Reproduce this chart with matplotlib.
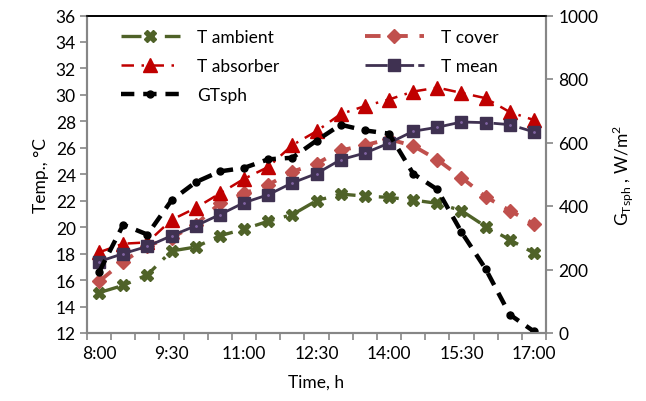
import matplotlib
matplotlib.use('Agg')
import matplotlib.pyplot as plt
import numpy as np

plt.rcParams['font.family'] = ['Lato', 'DejaVu Sans']
plt.rcParams['font.size'] = 12.5

# half-hour readings from 8:00 to 17:00
times = ['8:00', '8:30', '9:00', '9:30', '10:00', '10:30', '11:00', '11:30', '12:00', '12:30',
         '13:00', '13:30', '14:00', '14:30', '15:00', '15:30', '16:00', '16:30', '17:00']
t_ambient = [15.05, 15.6, 16.4, 18.2, 18.5, 19.35, 19.85, 20.45, 20.95, 22.0,
             22.5, 22.35, 22.25, 22.05, 21.8, 21.25, 20.05, 19.05, 18.05]
t_cover = [15.9, 17.4, 18.6, 19.2, 20.2, 21.8, 22.55, 23.2, 24.2, 24.8,
           25.8, 26.2, 26.65, 26.15, 25.1, 23.75, 22.3, 21.25, 20.25]
t_absorber = [18.1, 18.75, 18.85, 20.55, 21.45, 22.55, 23.65, 24.55, 26.2, 27.25,
              28.55, 29.15, 29.65, 30.25, 30.55, 30.15, 29.75, 28.7, 28.1]
t_mean = [17.4, 18.0, 18.55, 19.35, 20.1, 20.95, 21.85, 22.45, 23.35, 24.05,
          25.1, 25.6, 26.35, 27.25, 27.55, 27.95, 27.9, 27.75, 27.2]
g_tsph = [192, 341, 310, 418, 475, 509, 520, 547, 552, 606,
          656, 638, 628, 502, 452, 318, 202, 58, 5]

x = np.arange(len(times))

fig = plt.figure(figsize=(6.46, 4.02), dpi=100)
ax = fig.add_axes([87 / 646, 68 / 402, 459 / 646, 317.5 / 402])
ax2 = ax.twinx()

l_amb, = ax.plot(x, t_ambient, color='#4F6228', lw=2.4, dashes=(6, 3, 1, 3),
                 marker='X', ms=8, zorder=3)
l_cov, = ax.plot(x, t_cover, color='#C0504D', lw=2.8, dashes=(4, 3),
                 marker='D', ms=7.5, zorder=3)
l_abs, = ax.plot(x, t_absorber, color='#C00000', lw=1.8, dashes=(5, 3, 1, 3),
                 marker='^', ms=9.5, zorder=4)
l_mean, = ax.plot(x, t_mean, color='#3F3151', lw=2.0, dashes=(8, 1.5),
                  marker='s', ms=9, zorder=5)
ax.plot(x, t_mean, ls='none', marker='.', ms=2, color='#8064A2', zorder=6)
l_g, = ax2.plot(x, g_tsph, color='black', lw=3.2, dashes=(3, 2),
                marker='o', ms=5)

ax.set_xlim(-0.5, len(times) - 0.5)
ax.set_ylim(12, 36)
ax.set_yticks(np.arange(12, 37, 2))
ax2.set_ylim(0, 1000)
ax2.set_yticks(np.arange(0, 1001, 200))

ax.set_xticks(x[::3])
ax.set_xticklabels(times[::3])
ax.set_xticks(np.arange(-0.5, len(times), 1), minor=True)
ax.tick_params(axis='x', which='major', length=0, pad=9)
ax.tick_params(axis='x', which='minor', length=5, color='#868686', width=1.2)
ax.tick_params(axis='y', length=5, color='#868686', width=1.2, pad=3)
ax2.tick_params(axis='y', length=5, color='#868686', width=1.2, pad=4)

for a in (ax, ax2):
    for s in ('left', 'right', 'bottom'):
        a.spines[s].set_color('#868686')
        a.spines[s].set_linewidth(1.5)
    a.spines['top'].set_color('black')
    a.spines['top'].set_linewidth(1.2)

ax.set_xlabel('Time, h', labelpad=9)
ax.set_ylabel('Temp., °C', labelpad=5)
ax2.set_ylabel(r'G$_{\mathregular{Tsph}}$ , W/m$^{\mathregular{2}}$', labelpad=8)

ax.legend([l_amb, l_abs, l_g, l_cov, l_mean],
          ['T ambient', 'T absorber', 'GTsph', 'T cover', 'T mean'],
          ncol=2, frameon=False, loc='upper left', bbox_to_anchor=(0.04, 1.008),
          handlelength=3.4, columnspacing=4.9, labelspacing=0.75, handletextpad=1.0)

fig.savefig('out.png', dpi=100)
